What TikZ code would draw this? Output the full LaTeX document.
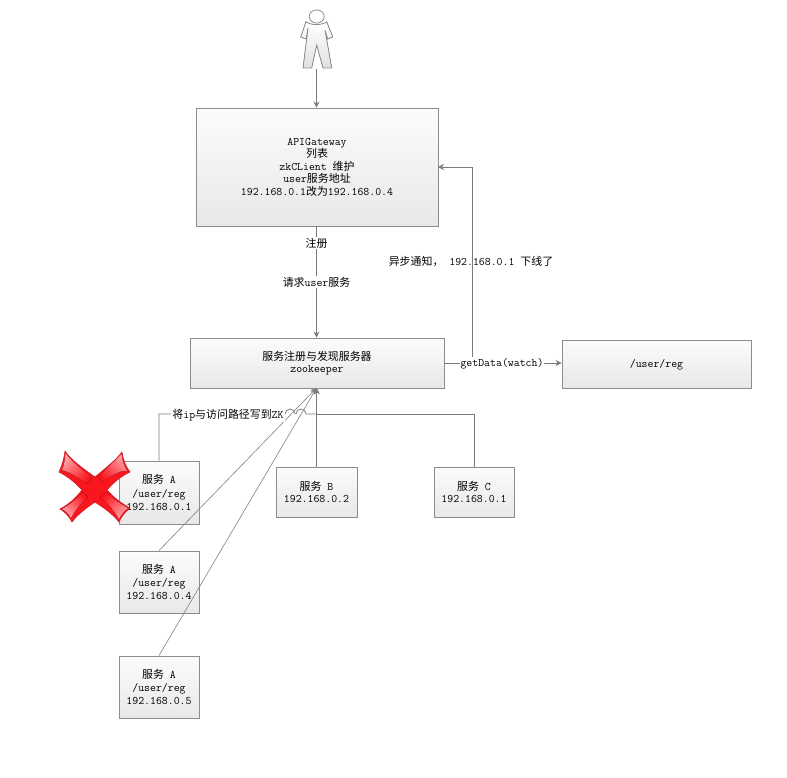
\documentclass[tikz,border=0pt]{standalone}
\usepackage{fontspec}
\newfontfamily\cjk[Scale=0.95]{Noto Sans CJK SC}
\usetikzlibrary{arrows.meta,shadows}
\newcommand{\zh}[1]{{\cjk #1}}
\definecolor{linegray}{HTML}{7A7A7A}
\definecolor{boxedge}{HTML}{8C8C8C}
\definecolor{boxtop}{HTML}{FCFCFC}
\definecolor{boxlow}{HTML}{E8E8E8}
\definecolor{crossred}{HTML}{FA161E}
\definecolor{crossedge}{HTML}{D8202A}
\definecolor{crosspink}{HTML}{FFA0A6}
\tikzset{
  box/.style={draw=boxedge,line width=0.9pt,top color=boxtop,bottom color=boxlow,
    inner sep=0pt,align=center,anchor=center,
    font=\ttfamily\fontsize{11.5}{12.5}\selectfont,
    general shadow={shadow xshift=0.8pt,shadow yshift=-0.8pt,fill=black!25,opacity=0.6}},
  nudged/.style={execute at begin node={\rule{0pt}{10pt}}},
  tall/.style={font=\ttfamily\fontsize{11.5}{13.3}\selectfont},
  conn/.style={draw=linegray,line width=0.8pt,-{Stealth[length=6pt,width=6pt]}},
  plainline/.style={draw=linegray,line width=0.8pt},
  thin diag/.style={draw=black!50,line width=0.6pt,-{Stealth[length=6pt,width=6pt]}},
  lbl/.style={font=\ttfamily\fontsize{11.5}{12.5}\selectfont,inner sep=1pt,align=center},
  lblbg/.style={lbl,fill=white},
  tip/.style={top color=crosspink,bottom color=crossred},
}
\begin{document}
\begin{tikzpicture}[x=1pt,y=-1pt]
\useasboundingbox (0,0) rectangle (787,778);
% person
\filldraw[draw=black!45,fill=white,line width=0.8pt] (316.7,16.5) ellipse [x radius=7.5,y radius=6.6];
\filldraw[draw=black!45,top color=white,bottom color=black!12,line width=0.8pt]
  (306,21.7) .. controls (310,25.5) and (323,25.5) .. (326.7,21.7)
  -- (332.7,37) -- (327.7,39) -- (325,30) -- (331.7,68) -- (323,68) -- (316.7,45)
  -- (311.7,68) -- (303,68) -- (308,28) -- (306,39) -- (300.7,37) -- cycle;
\coordinate (person) at (316.5,69);
% boxes
\node[box,nudged,minimum width=242pt,minimum height=118pt] (api) at (317,167)
  {APIGateway\\\zh{列表}\\zkCLient \zh{维护}\\user\zh{服务地址}\\192.168.0.1\zh{改为}192.168.0.4};
\node[box,nudged,minimum width=254pt,minimum height=50pt] (zk) at (317,363)
  {\zh{服务注册与发现服务器}\\zookeeper};
\node[box,nudged,minimum width=189pt,minimum height=48pt] (reg) at (656.5,364) {/user/reg};
\node[box,tall,minimum width=80pt,minimum height=63pt] (a1) at (159,492.5)
  {\zh{服务} A\\/user/reg\\192.168.0.1};
\node[box,tall,minimum width=80pt,minimum height=62pt] (a4) at (159,582)
  {\zh{服务} A\\/user/reg\\192.168.0.4};
\node[box,tall,minimum width=80pt,minimum height=62pt] (a5) at (159,687)
  {\zh{服务} A\\/user/reg\\192.168.0.5};
\node[box,minimum width=81pt,minimum height=50pt] (b) at (316.5,492)
  {\zh{服务} B\\192.168.0.2};
\node[box,minimum width=80pt,minimum height=50pt] (c) at (474,492)
  {\zh{服务} C\\192.168.0.1};
% junction coordinates
\coordinate (hub) at (316.5,414);
\coordinate (jumpw) at (285,414);
\coordinate (notifycorner) at (472,363);
\coordinate (apiin) at (438,167);
\coordinate (zkin) at (316.5,388);
% connectors
\draw[conn] (person) -- (person |- api.north);
\draw[conn] (person |- api.south) -- (person |- zk.north);
\draw[conn] (zk.east) -- (reg.west |- zk.east);
\draw[conn] (zk.east) -- (notifycorner) -- (apiin -| notifycorner) -- (apiin);
\draw[plainline] (a1.north) |- (jumpw) arc[start angle=180,end angle=0,radius=5pt]
  ++(1,0) arc[start angle=180,end angle=0,radius=5pt] -- (hub);
\draw[conn] (c.north) |- (hub) -- (zkin);
\draw[conn] (b.north) -- (zkin);
\draw[thin diag] (a4.north) -- (zkin);
\draw[thin diag] (a5.north) -- (zkin);
% labels
\node[lblbg] (l1) at (316.5,243) {\zh{注册}};
\node[lblbg] (l2) at (316.5,282) {\zh{请求}user\zh{服务}};
\node[lbl] (l3) at (471,261) {\zh{异步通知，} 192.168.0.1 \zh{下线了}};
\node[lblbg] (l4) at (502,363.5) {getData(watch)};
\node[lblbg] (l5) at (228,415) {\zh{将}ip\zh{与访问路径写到}ZK};
% cross
\filldraw[draw=crossedge,fill=crossred,line width=0.7pt,line join=round]
  (65,451) .. controls (70,459) and (82,468) .. (95,477)
  .. controls (106,468) and (117,459) .. (122,452)
  .. controls (123,460) and (126,467) .. (130,472)
  .. controls (121,476) and (113,483) .. (107,490)
  .. controls (113,497) and (122,504) .. (130,508)
  .. controls (125,512) and (121,517) .. (119,522)
  .. controls (113,514) and (104,508) .. (95,502)
  .. controls (86,508) and (77,515) .. (72,522)
  .. controls (69,516) and (65,512) .. (60,509)
  .. controls (68,505) and (76,498) .. (82,490)
  .. controls (75,482) and (67,476) .. (59,472)
  .. controls (62,466) and (64,459) .. (65,451) -- cycle;
\fill[tip,shading angle=45] (65.5,453) .. controls (70,460) and (80,468) .. (92,478) -- (86,484) .. controls (79,478) and (70,472) .. (62,470) .. controls (64,466) and (65,460) .. (65.5,453) -- cycle;
\fill[tip,shading angle=-45] (121.5,454) .. controls (116,460) and (107,468) .. (98,477) -- (103,482) .. controls (110,476) and (120,470) .. (127,471) .. controls (124,466) and (122,460) .. (121.5,454) -- cycle;
\fill[tip,shading angle=135] (62,509) .. controls (70,505) and (77,498) .. (83,492) -- (88,497) .. controls (82,502) and (75,510) .. (71,518) .. controls (69,514) and (66,511) .. (62,509) -- cycle;
\fill[tip,shading angle=-135] (128,508) .. controls (120,504) and (112,498) .. (106,492) -- (100,497) .. controls (106,502) and (114,510) .. (119,519) .. controls (121,515) and (124,511) .. (128,508) -- cycle;
\end{tikzpicture}
\end{document}
